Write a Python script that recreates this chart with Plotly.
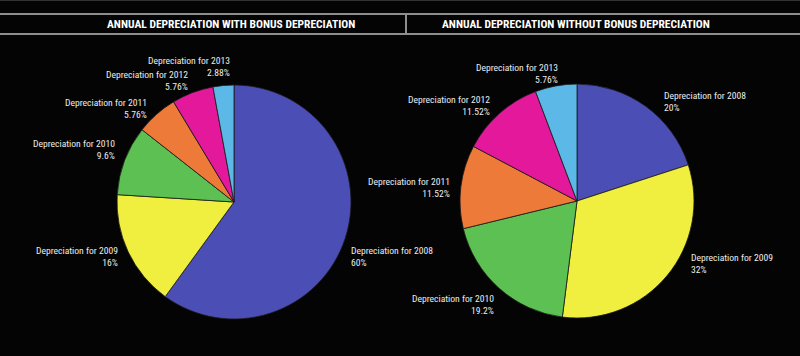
import plotly.graph_objects as go

# ---- data ----
years = ["2008", "2009", "2010", "2011", "2012", "2013"]
with_bonus = [60, 16, 9.6, 5.76, 5.76, 2.88]
without_bonus = [20, 32, 19.2, 11.52, 11.52, 5.76]
titles = ["ANNUAL DEPRECIATION WITH BONUS DEPRECIATION",
          "ANNUAL DEPRECIATION WITHOUT BONUS DEPRECIATION"]
colors = ["#4B4EB4", "#F0EE3E", "#5CC152", "#EE7A3A", "#E3189A", "#5CB8E6"]

W, H = 800, 356
FONT = "Roboto Condensed, DejaVu Sans Condensed, sans-serif"


def px(x):
    return x / W


def py(y):
    return 1 - y / H


fig = go.Figure()

domains = [
    dict(x=[px(117), px(351)], y=[py(319), py(85)]),
    dict(x=[px(460), px(694)], y=[py(318), py(84)]),
]
for vals, dom in zip([with_bonus, without_bonus], domains):
    fig.add_trace(go.Pie(
        labels=["Depreciation for " + y for y in years],
        values=vals,
        sort=False,
        direction="clockwise",
        rotation=0,
        domain=dom,
        textinfo="none",
        hoverinfo="label+percent",
        showlegend=False,
        marker=dict(colors=colors, line=dict(color="#1a1a1a", width=0.8)),
    ))

# label placements (anchor, x px, y px center)
pos_left = [("left", 349, 256.5), ("right", 120, 256.5), ("right", 117, 149.5),
            ("right", 149, 108), ("right", 190, 80), ("right", 232, 66.5)]
pos_right = [("left", 662, 102), ("left", 689, 263), ("right", 496, 304),
             ("right", 452, 187.5), ("right", 492, 106), ("right", 560, 73)]

annotations = []
for vals, poss in [(with_bonus, pos_left), (without_bonus, pos_right)]:
    for yr, v, (anc, x, y) in zip(years, vals, poss):
        annotations.append(dict(
            text=f"Depreciation for {yr}<br>{v:g}%",
            x=px(x), y=py(y), xref="paper", yref="paper",
            xanchor=anc, yanchor="middle", align=anc, showarrow=False,
            font=dict(family=FONT, size=9.6, color="#ECECEC"),
        ))

for t, cx in zip(titles, [231, 576]):
    annotations.append(dict(
        text=f"<b>{t}</b>", x=px(cx), y=py(24), xref="paper", yref="paper",
        xanchor="center", yanchor="middle", showarrow=False,
        font=dict(family=FONT, size=11.5, color="#FFFFFF"),
    ))

line_col = "#8E8E8E"
shapes = [
    dict(type="line", xref="paper", yref="paper", x0=0, x1=1, y0=py(14), y1=py(14),
         line=dict(color=line_col, width=2)),
    dict(type="line", xref="paper", yref="paper", x0=0, x1=1, y0=py(34), y1=py(34),
         line=dict(color=line_col, width=2)),
    dict(type="line", xref="paper", yref="paper", x0=px(406), x1=px(406), y0=py(14), y1=py(34),
         line=dict(color=line_col, width=2)),
    dict(type="line", xref="paper", yref="paper", x0=0, x1=1, y0=py(0.5), y1=py(0.5),
         line=dict(color="#333333", width=1)),
]

fig.update_layout(
    width=W, height=H,
    margin=dict(l=0, r=0, t=0, b=0),
    paper_bgcolor="#040404",
    plot_bgcolor="#040404",
    annotations=annotations,
    shapes=shapes,
)

fig.write_html("out.html", config={"displayModeBar": False},
               post_script="document.body.style.margin='0';")
